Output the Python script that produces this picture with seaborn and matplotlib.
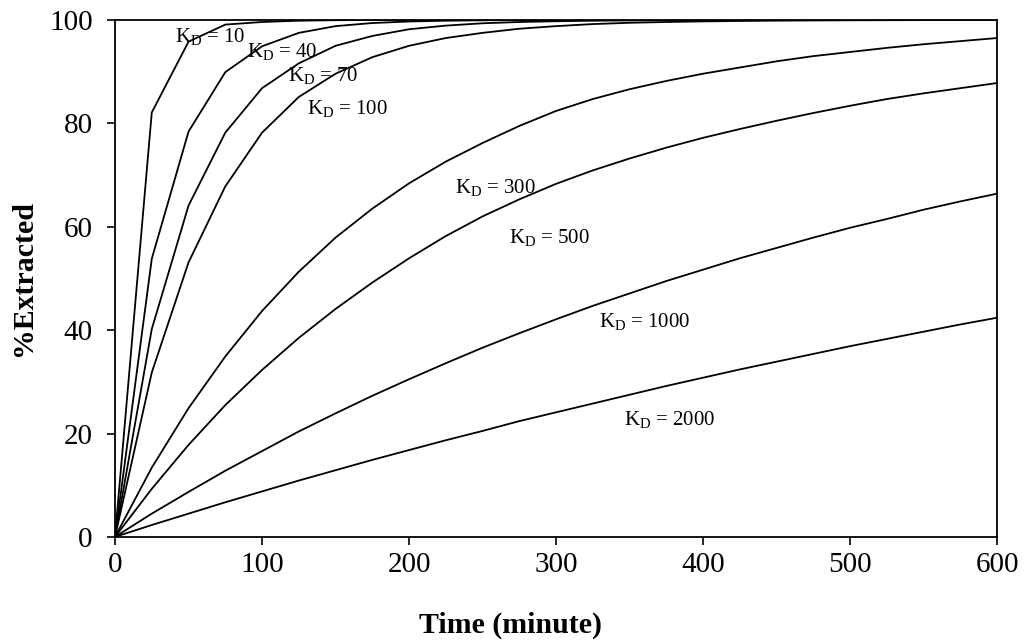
import matplotlib
matplotlib.use("Agg")
import matplotlib.pyplot as plt
import seaborn as sns
import pandas as pd

# ---- data ----
time_min = [0, 25, 50, 75, 100, 125, 150, 175, 200, 225, 250, 275, 300,
            325, 350, 375, 400, 425, 450, 475, 500, 525, 550, 575, 600]

kd_values = [10, 40, 70, 100, 300, 500, 1000, 2000]

ext_kd10 = [0, 82.1, 95.8, 99.1, 99.6, 99.85, 99.95, 100, 100, 100, 100, 100, 100,
            100, 100, 100, 100, 100, 100, 100, 100, 100, 100, 100, 100]
ext_kd40 = [0, 53.8, 78.4, 89.9, 94.9, 97.5, 98.8, 99.4, 99.7, 99.85, 99.93, 99.97, 100,
            100, 100, 100, 100, 100, 100, 100, 100, 100, 100, 100, 100]
ext_kd70 = [0, 40.2, 64.1, 78.2, 86.8, 91.6, 95.0, 96.9, 98.2, 98.9, 99.35, 99.6, 99.75,
            99.85, 99.9, 99.95, 99.97, 100, 100, 100, 100, 100, 100, 100, 100]
ext_kd100 = [0, 31.8, 53.1, 67.8, 78.2, 85.1, 89.6, 92.8, 95.0, 96.5, 97.5, 98.3, 98.8,
             99.2, 99.45, 99.6, 99.72, 99.8, 99.86, 99.9, 99.93, 99.95, 99.97, 99.98, 99.99]
ext_kd300 = [0, 13.4, 24.9, 34.9, 43.7, 51.3, 57.9, 63.5, 68.4, 72.6, 76.2, 79.5, 82.4,
             84.7, 86.6, 88.2, 89.6, 90.8, 92.0, 93.0, 93.8, 94.6, 95.3, 95.9, 96.5]
ext_kd500 = [0, 9.3, 17.8, 25.5, 32.3, 38.5, 44.1, 49.2, 53.9, 58.2, 62.0, 65.3, 68.3,
             70.9, 73.2, 75.3, 77.2, 78.9, 80.5, 82.0, 83.4, 84.7, 85.8, 86.8, 87.8]
ext_kd1000 = [0, 4.5, 8.7, 12.8, 16.6, 20.4, 23.9, 27.3, 30.5, 33.6, 36.6, 39.4, 42.1,
              44.7, 47.1, 49.5, 51.7, 53.9, 55.9, 57.9, 59.8, 61.5, 63.3, 64.9, 66.4]
ext_kd2000 = [0, 2.3, 4.5, 6.7, 8.8, 10.9, 12.9, 14.9, 16.8, 18.7, 20.5, 22.4, 24.1,
              25.8, 27.5, 29.2, 30.8, 32.4, 33.9, 35.4, 36.9, 38.3, 39.7, 41.1, 42.4]

series = [ext_kd10, ext_kd40, ext_kd70, ext_kd100,
          ext_kd300, ext_kd500, ext_kd1000, ext_kd2000]

# label anchor points (data coords, left edge / vertical centre)
label_x = [40.8, 90.0, 117.7, 130.5, 231.0, 268.0, 329.0, 346.0]
label_y = [96.8, 93.9, 89.3, 82.8, 67.6, 57.9, 41.6, 22.8]

# ---- build long-form table ----
rows = []
for kd, vals in zip(kd_values, series):
    for t, v in zip(time_min, vals):
        rows.append({"Time": t, "Extracted": v, "KD": str(kd)})
df = pd.DataFrame(rows)

sns.set_style("ticks")
plt.rcParams["font.family"] = ["Liberation Serif", "DejaVu Serif"]
plt.rcParams["mathtext.fontset"] = "custom"
plt.rcParams["mathtext.rm"] = "Liberation Serif"
plt.rcParams["mathtext.it"] = "Liberation Serif:italic"
plt.rcParams["text.color"] = "black"
plt.rcParams["axes.labelcolor"] = "black"

fig = plt.figure(figsize=(10.27, 6.43), dpi=100)
ax = fig.add_axes([0.112, 0.165, 0.859, 0.804])

sns.lineplot(data=df, x="Time", y="Extracted", hue="KD",
             palette=["black"] * len(kd_values), linewidth=1.3,
             legend=False, ax=ax, sort=False)

for kd, lx, ly in zip(kd_values, label_x, label_y):
    ax.text(lx, ly, r"$\mathrm{K_D}$ = " + str(kd), fontsize=15,
            ha="left", va="center", color="black")

ax.set_xlim(0, 600)
ax.set_ylim(0, 100)
ax.set_xticks([0, 100, 200, 300, 400, 500, 600])
ax.set_yticks([0, 20, 40, 60, 80, 100])
ax.tick_params(axis="both", labelsize=21, length=6, width=1.2,
               direction="out", colors="black")
ax.tick_params(axis="y", pad=10)
ax.tick_params(axis="x", pad=5)
for side in ["top", "right", "left", "bottom"]:
    ax.spines[side].set_visible(True)
    ax.spines[side].set_color("black")
    ax.spines[side].set_linewidth(1.3)

ax.set_xlabel("Time (minute)", fontsize=21.5, fontweight="bold", color="black")
ax.set_ylabel("%Extracted", fontsize=21.5, fontweight="bold", color="black")
ax.xaxis.set_label_coords(0.448, -0.145)
ax.yaxis.set_label_coords(-0.088, 0.50)

fig.savefig("out.png", dpi=100, facecolor="white")
